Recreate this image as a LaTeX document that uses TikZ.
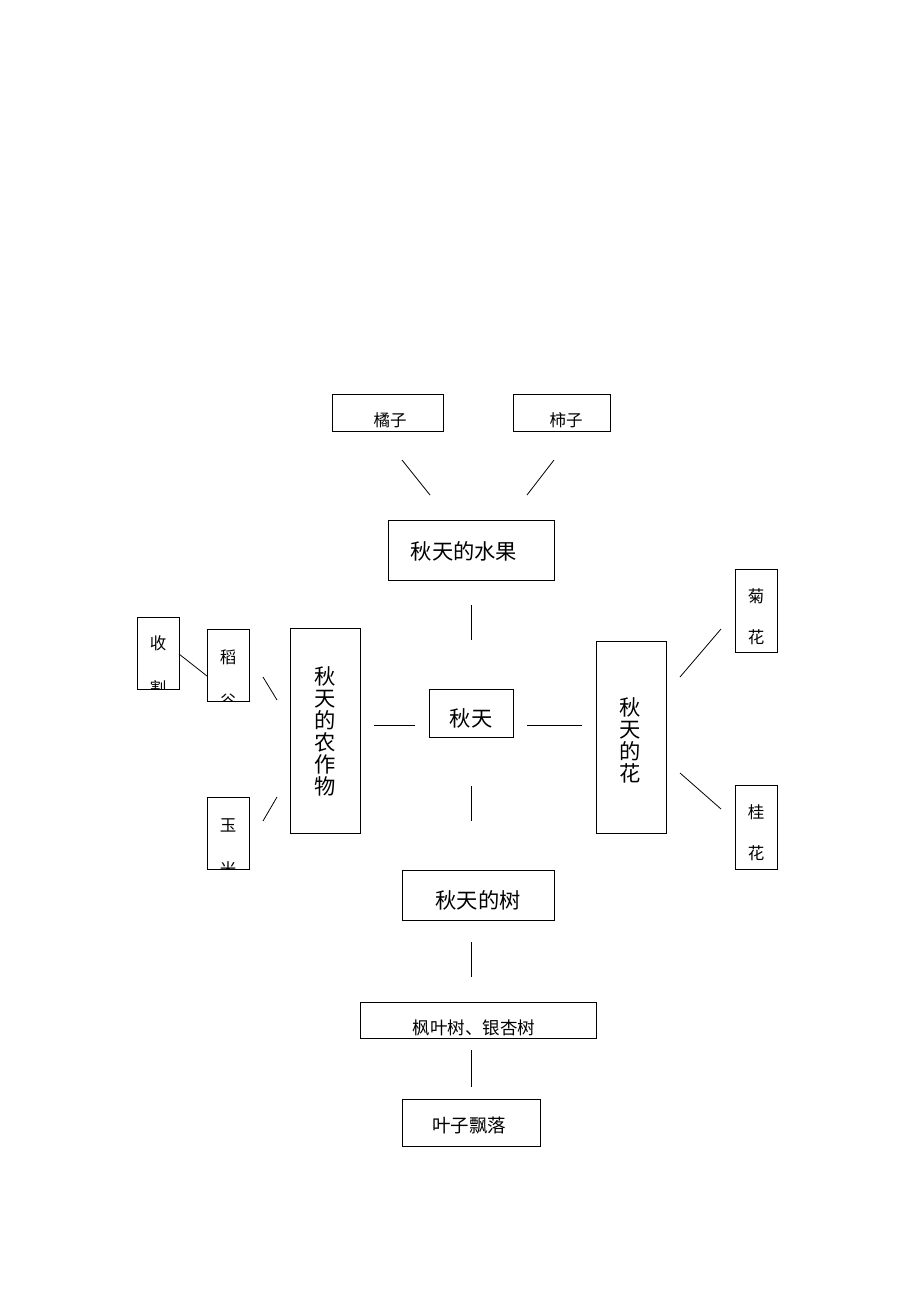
\documentclass[tikz,border=0pt]{standalone}
\usepackage{fontspec}
\newfontfamily\cjk{Noto Sans CJK SC}
\begin{document}
\begin{tikzpicture}[x=1pt,y=-1pt,
  box/.style={draw,line width=0.8pt,inner sep=0pt},
  small/.style={font=\cjk\fontsize{16.5}{16.5}\selectfont,inner sep=0pt},
  big/.style={font=\cjk\fontsize{21.3}{22}\selectfont,inner sep=0pt,align=center},
  ln/.style={line width=0.8pt}]
\useasboundingbox (0,0) rectangle (920,1302);
% top fruit boxes
\node[box,minimum width=111,minimum height=37] (juzi) at (387.5,412.5) {};
\node[small] (tjuzi) at (390,420) {橘子};
\node[box,minimum width=97,minimum height=37] (shizi) at (561.5,412.5) {};
\node[small] (tshizi) at (566,420) {柿子};
\coordinate (a1) at (402,460); \coordinate (a2) at (430,495);
\coordinate (b1) at (554,460); \coordinate (b2) at (527,495);
\draw[ln] (a1) -- (a2);
\draw[ln] (b1) -- (b2);
\node[box,minimum width=166,minimum height=60] (fruit) at (471,550) {};
\node[big] (tfruit) at (464,551) {秋天的水果};
\coordinate (c1) at (471,605); \coordinate (c2) at (471,640);
\draw[ln] (c1) -- (c2);
% center
\node[box,minimum width=84,minimum height=48] (autumn) at (471,713) {};
\node[big] (tautumn) at (471,718) {秋天};
\coordinate (d1) at (374,725); \coordinate (d2) at (415,725);
\coordinate (e1) at (527,725); \coordinate (e2) at (582,725);
\draw[ln] (d1) -- (d2);
\draw[ln] (e1) -- (e2);
\coordinate (f1) at (471,786); \coordinate (f2) at (471,821);
\draw[ln] (f1) -- (f2);
% crops
\node[box,minimum width=70,minimum height=205] (crop) at (325,730.5) {};
\node[big] (tcrop) at (325,731) {秋\\天\\的\\农\\作\\物};
% flowers
\node[box,minimum width=70,minimum height=192] (flower) at (631,737) {};
\node[big] (tflower) at (630,740) {秋\\天\\的\\花};
% left small boxes
\node[box,minimum width=42,minimum height=72] (shouge) at (158,653) {};
\begin{scope}\clip (137,617) rectangle (179,689);
\node[small] (tshou) at (158,643) {收};
\node[small] (tge) at (158,688) {割};
\end{scope}
\node[box,minimum width=42,minimum height=72] (daogu) at (228,665) {};
\begin{scope}\clip (207,629) rectangle (249,701);
\node[small] (tdao) at (228,657) {稻};
\node[small] (tgu) at (228,701) {谷};
\end{scope}
\node[box,minimum width=42,minimum height=72] (yumi) at (228,833) {};
\begin{scope}\clip (207,797) rectangle (249,869);
\node[small] (tyu) at (228,825) {玉};
\node[small] (tmi) at (228,869) {米};
\end{scope}
\coordinate (g1) at (179,654); \coordinate (g2) at (207,676);
\draw[ln] (g1) -- (g2);
\coordinate (h1) at (263,677); \coordinate (h2) at (277,700);
\coordinate (i1) at (263,821); \coordinate (i2) at (277,797);
\draw[ln] (h1) -- (h2);
\draw[ln] (i1) -- (i2);
% right small boxes
\node[box,minimum width=42,minimum height=83] (juhua) at (756,610.5) {};
\node[small] (tju) at (756,596) {菊};
\node[small] (thua1) at (756,637) {花};
\node[box,minimum width=42,minimum height=84] (guihua) at (756,827) {};
\node[small] (tgui) at (756,812) {桂};
\node[small] (thua2) at (756,853) {花};
\coordinate (j1) at (680,677); \coordinate (j2) at (721,629);
\coordinate (k1) at (680,773); \coordinate (k2) at (721,809);
\draw[ln] (j1) -- (j2);
\draw[ln] (k1) -- (k2);
% trees
\node[box,minimum width=152,minimum height=50] (tree) at (478,895) {};
\node[big] (ttree) at (478,900) {秋天的树};
\coordinate (l1) at (471,942); \coordinate (l2) at (471,977);
\draw[ln] (l1) -- (l2);
\node[box,minimum width=236,minimum height=36] (fengye) at (478,1020) {};
\node[small,font=\cjk\fontsize{17.5}{17.5}\selectfont] (tfengye) at (474,1028) {枫叶树、银杏树};
\coordinate (m1) at (471,1050); \coordinate (m2) at (471,1087);
\draw[ln] (m1) -- (m2);
\node[box,minimum width=138,minimum height=47] (fall) at (471,1122.5) {};
\node[font=\cjk\fontsize{18.5}{18.5}\selectfont,inner sep=0pt] (tfall) at (469,1126) {叶子飘落};
\end{tikzpicture}
\end{document}
